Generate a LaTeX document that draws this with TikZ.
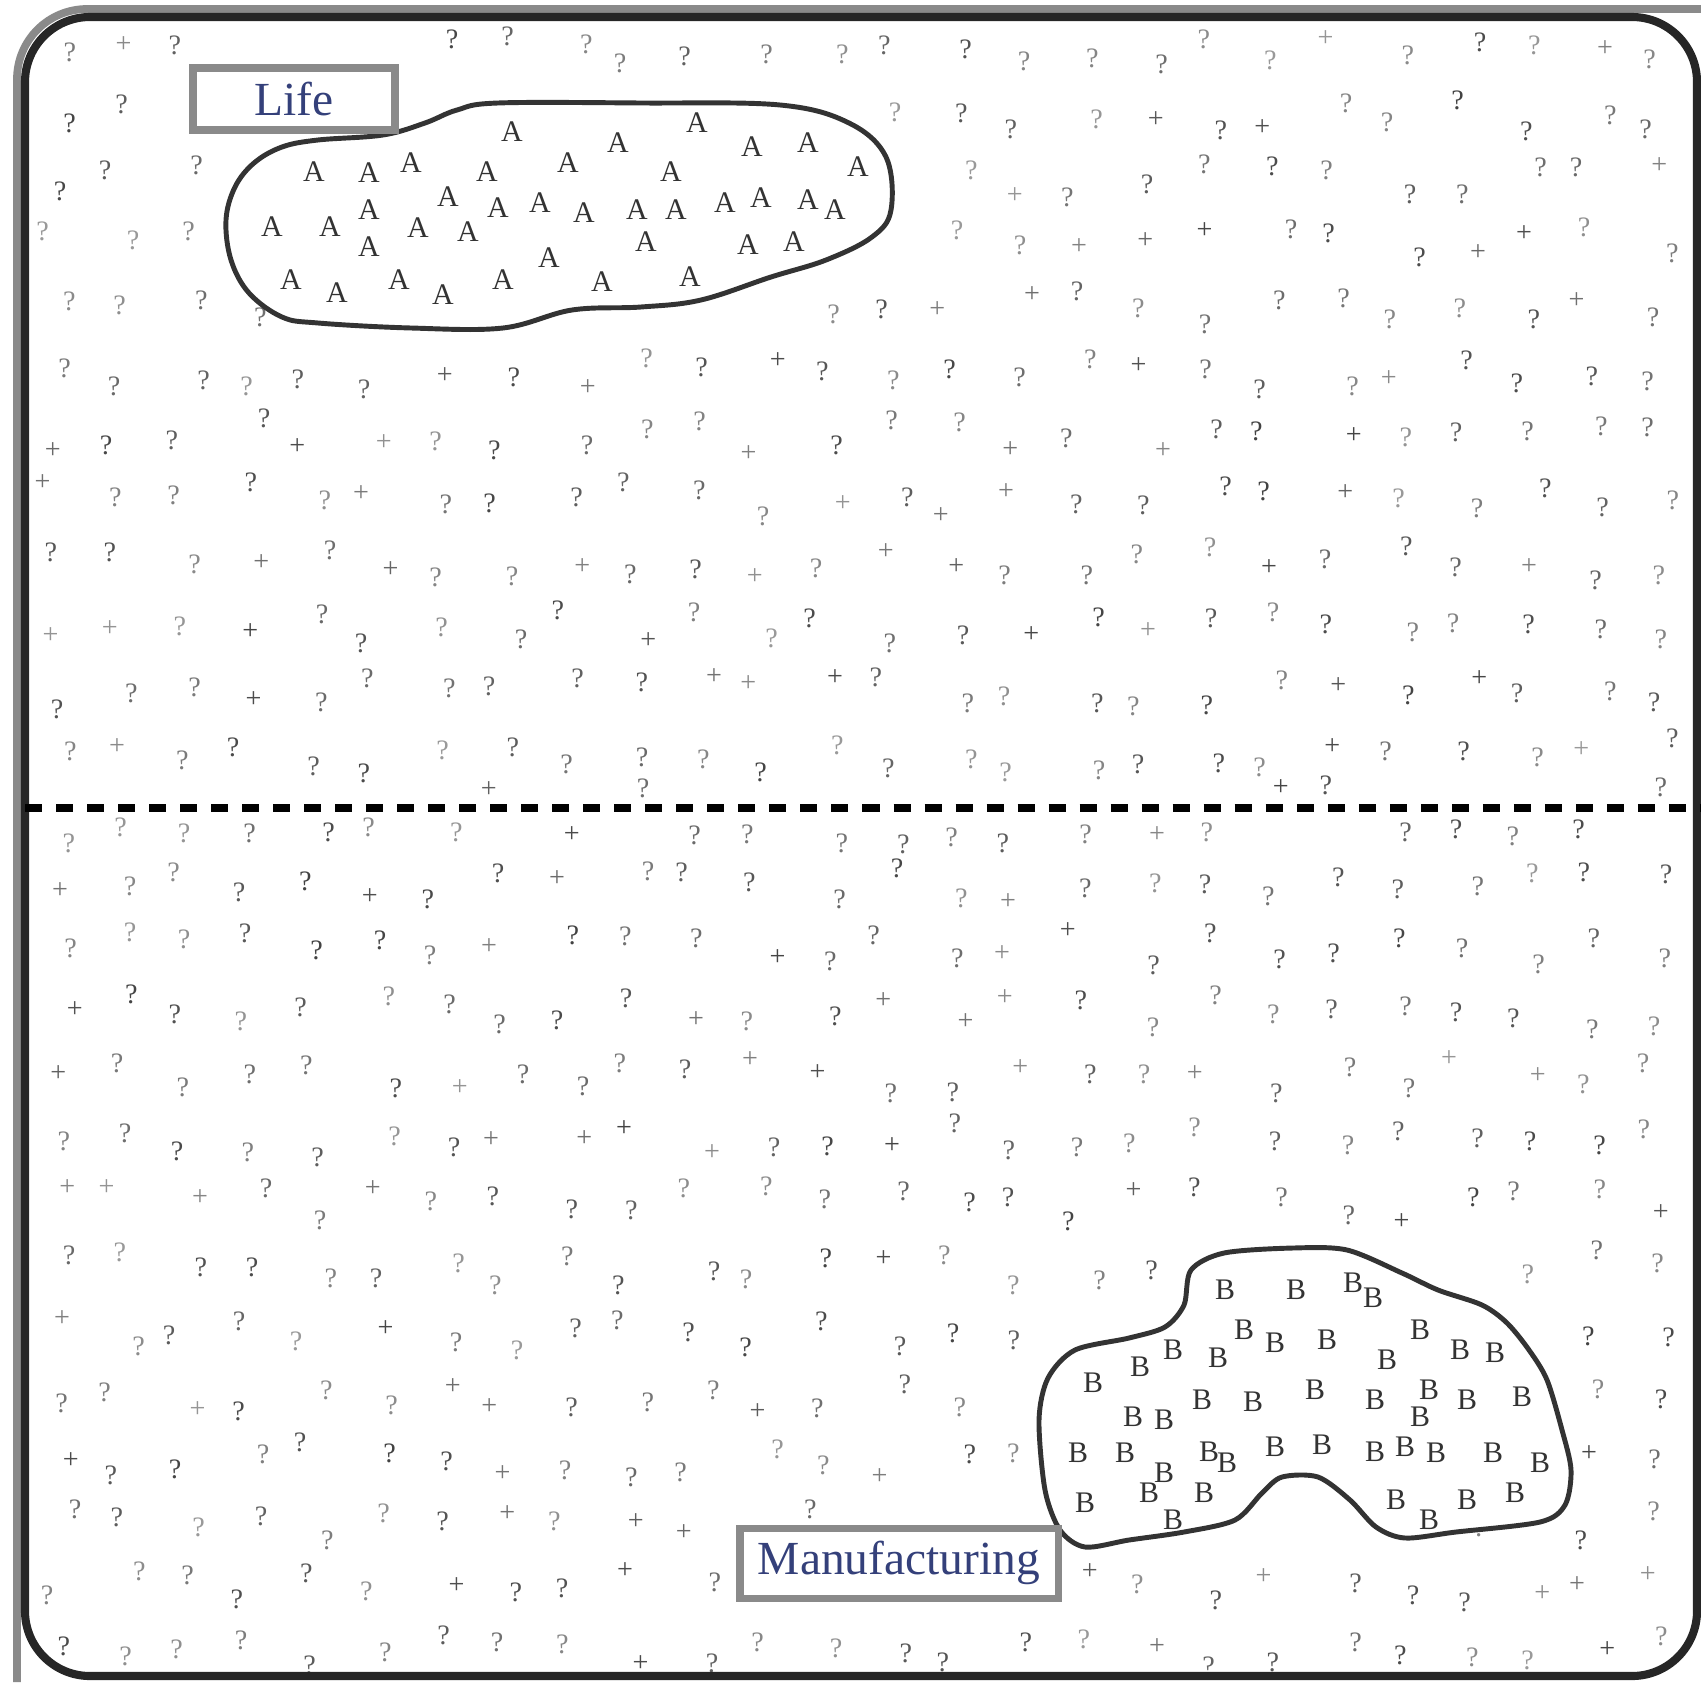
\documentclass[tikz,border=0pt]{standalone}
\usepackage{fontspec}
\setmainfont{Liberation Serif}
\usepackage{xcolor}
\usepackage{tikz}
\usetikzlibrary{positioning,calc}
\definecolor{lbl}{HTML}{34407A}
\definecolor{rim}{HTML}{8A8A8A}

\begin{document}
\begin{tikzpicture}[x=0.01cm, y=-0.01cm,
  qmark/.style={inner sep=0pt, font=\fontsize{8}{9}\selectfont},
  ltr/.style={inner sep=0pt, font=\fontsize{8.5}{9}\selectfont, text=black!80},
  tag/.style={draw=rim, line width=2pt, fill=white, inner sep=0pt, font=\fontsize{13.5}{15}\selectfont, text=lbl},
  blob/.style={draw=black!80, line width=1.4pt, fill=white}]
\useasboundingbox (0,0) rectangle (1701,1682);
% scattered background marks
\pgfmathsetseed{11}
\pgfmathdeclarerandomlist{glyphs}{{?}{?}{?}{?}{+}}
\foreach \r in {0,...,25}{\foreach \c in {0,...,25}{
  \pgfmathsetmacro\mx{58+\c*64+rand*18}
  \pgfmathsetmacro\my{52+\r*64+rand*18}
  \pgfmathsetmacro\my{abs(\my-808)<18 ? (\my<808 ? \my-18 : \my+18) : \my}
  \pgfmathsetmacro\ms{int(40+rnd*35)}
  \pgfmathrandomitem\mg{glyphs}
  \pgfmathparse{((\mx>180 && \mx<410 && \my>50 && \my<148) || (\mx>725 && \mx<1075 && \my>1512 && \my<1615) || (((\mx-560)/350)^2+((\my-215)/128)^2<1) || (((\mx-1305)/280)^2+((\my-1400)/155)^2<1)) ? 1 : 0}
  \ifnum\pgfmathresult=0
    \node[qmark, text=black!\ms] (m-\r-\c) at (\mx,\my) {\mg};
  \fi
}}
% frame
\draw[rim, line width=2.2pt, rounded corners=0.7cm] (17,1682) |- (1701,9);
\draw[black!85, line width=2.3pt, rounded corners=0.65cm] (25,17) rectangle (1697,1676);
\draw[black, line width=2.3pt, dash pattern=on 0.17cm off 0.14cm] (25,808) -- (1701,808);
% cluster A
\draw[blob] plot[smooth cycle, tension=0.6] coordinates {(498,103) (641,103) (780,105) (849,123) (886,157) (891,210) (872,237) (826,260) (771,277) (701,300) (641,307) (572,310) (503,328) (411,328) (318,323) (282,317) (249,293) (231,260) (226,220) (235,187) (254,163) (282,147) (318,140) (383,135) (425,123) (457,110)};
\foreach \p [count=\i] in {(697,123),(512,132),(618,143),(752,147),(808,143),(314,172),(369,173),(411,163),(487,172),(568,163),(671,172),(858,167),(448,197),(369,210),(498,208),(540,203),(584,213),(637,210),(676,210),(725,203),(761,198),(808,200),(835,210),(272,227),(330,227),(418,228),(468,232),(369,247),(646,242),(748,245),(794,242),(549,258),(690,277),(291,280),(399,280),(503,280),(602,282),(337,293),(443,295)}
  \node[ltr] (a\i) at \p {A};
% cluster B
\draw[blob] plot[smooth cycle, tension=0.5] coordinates {(1191,1270) (1224,1253) (1293,1248) (1347,1250) (1402,1273) (1438,1290) (1482,1305) (1507,1323) (1529,1350) (1547,1380) (1562,1430) (1571,1470) (1565,1505) (1540,1522) (1456,1532) (1405,1538) (1376,1527) (1350,1500) (1318,1477) (1282,1477) (1262,1493) (1235,1520) (1184,1532) (1129,1540) (1085,1547) (1060,1530) (1045,1490) (1039,1420) (1048,1378) (1075,1350) (1129,1338) (1165,1327) (1184,1305)};
\foreach \p [count=\i] in {(1225,1290),(1296,1290),(1353,1283),(1373,1298),(1244,1330),(1275,1343),(1327,1340),(1420,1330),(1460,1350),(1495,1353),(1173,1350),(1218,1358),(1140,1367),(1387,1360),(1093,1383),(1202,1400),(1253,1402),(1315,1390),(1375,1400),(1429,1390),(1467,1400),(1522,1397),(1133,1417),(1164,1420),(1420,1417),(1078,1453),(1125,1453),(1209,1452),(1275,1447),(1322,1445),(1375,1452),(1405,1447),(1436,1453),(1493,1453),(1540,1463),(1164,1473),(1227,1463),(1085,1503),(1149,1493),(1204,1493),(1396,1500),(1467,1500),(1515,1493),(1173,1520),(1429,1520)}
  \node[ltr] (b\i) at \p {B};
% labels
\node[tag, minimum width=202*0.01cm, minimum height=62*0.01cm] (life) at (294,99) {Life};
\node[tag, minimum width=318*0.01cm, minimum height=70*0.01cm] (manu) at (899,1563) {Manufacturing};
\end{tikzpicture}
\end{document}
